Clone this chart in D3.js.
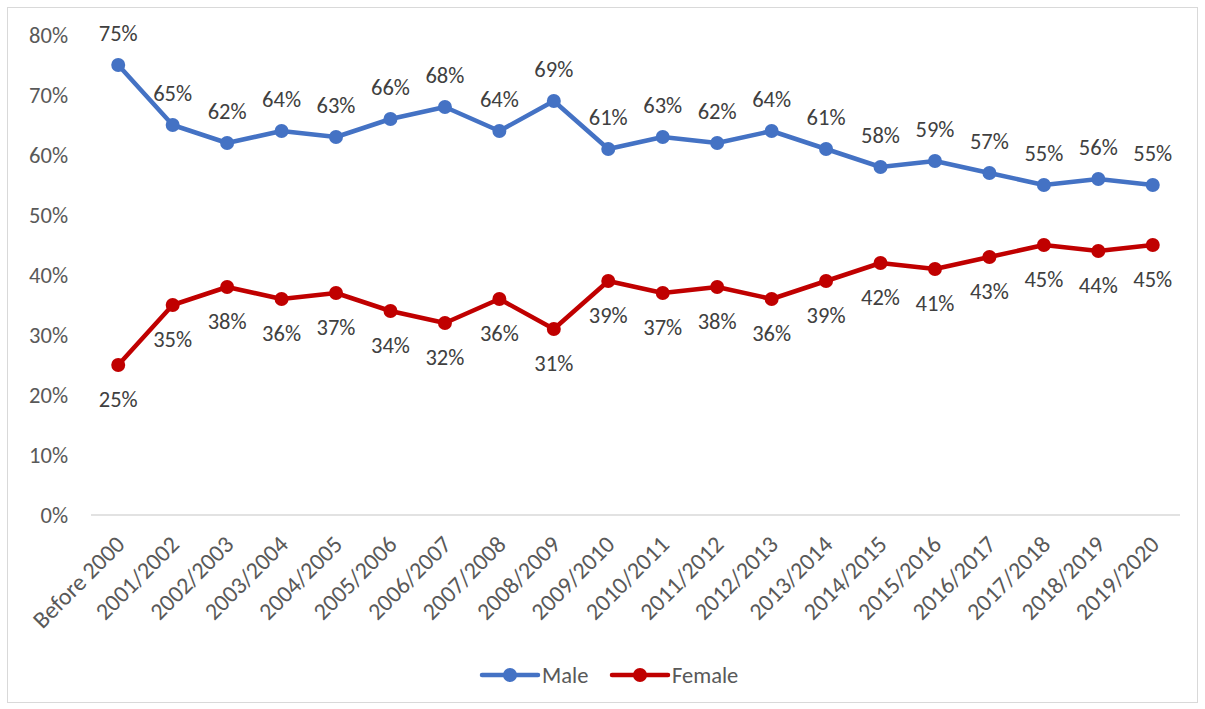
<!DOCTYPE html>
<html><head><meta charset="utf-8">
<script src="https://cdn.jsdelivr.net/npm/d3@7"></script>
<style>body{margin:0;background:#fff;}svg{display:block;font-family:Carlito,Lato,"Open Sans",sans-serif;}</style>
</head><body>
<svg id="c" width="1205" height="709"></svg>
<script>
const categories = ["Before 2000","2001/2002","2002/2003","2003/2004","2004/2005","2005/2006","2006/2007","2007/2008","2008/2009","2009/2010","2010/2011","2011/2012","2012/2013","2013/2014","2014/2015","2015/2016","2016/2017","2017/2018","2018/2019","2019/2020"];
const male = [75,65,62,64,63,66,68,64,69,61,63,62,64,61,58,59,57,55,56,55];
const female = [25,35,38,36,37,34,32,36,31,39,37,38,36,39,42,41,43,45,44,45];
const yTicks = [0,10,20,30,40,50,60,70,80];
const seriesNames = ["Male","Female"];
const colors = ["#4472C4","#C00000"];

const svg = d3.select("#c");
svg.append("rect").attr("x",7.5).attr("y",7.5).attr("width",1190).attr("height",695)
  .attr("fill","#fff").attr("stroke","#d9d9d9").attr("stroke-width",1);

const x = d3.scaleBand().domain(categories).range([91,1180]);
const y = d3.scaleLinear().domain([0,80]).range([515,35]);
const cx = d => x(d) + x.bandwidth()/2;

svg.append("line").attr("x1",91).attr("x2",1180).attr("y1",y(0)).attr("y2",y(0))
  .attr("stroke","#d9d9d9").attr("stroke-width",1.3);

svg.selectAll(".yt").data(yTicks).enter().append("text")
  .attr("x",68).attr("y",d=>y(d)).attr("dy","0.35em").attr("text-anchor","end")
  .attr("font-size",22.5).attr("fill","#595959").text(d=>d+"%");

svg.selectAll(".xt").data(categories).enter().append("text")
  .attr("transform",d=>`translate(${cx(d)+2},${y(0)+25}) rotate(-45)`)
  .attr("text-anchor","end").attr("dy","0.35em")
  .attr("font-size",24).attr("fill","#595959").text(d=>d);

const series = [male, female];
series.forEach((vals,i)=>{
  const line = d3.line().x((v,j)=>cx(categories[j])).y(v=>y(v));
  svg.append("path").datum(vals).attr("d",line).attr("fill","none")
    .attr("stroke",colors[i]).attr("stroke-width",4.5).attr("stroke-linejoin","round").attr("stroke-linecap","round");
  svg.selectAll(".m"+i).data(vals).enter().append("circle")
    .attr("cx",(v,j)=>cx(categories[j])).attr("cy",v=>y(v)).attr("r",7).attr("fill",colors[i]);
  svg.selectAll(".l"+i).data(vals).enter().append("text")
    .attr("x",(v,j)=>cx(categories[j])).attr("y",v=>y(v)+(i===0?-32:34)).attr("dy","0.35em")
    .attr("text-anchor","middle").attr("font-size",22.5).attr("fill","#404040").text(v=>v+"%");
});

const lg = [{x:482},{x:612}];
seriesNames.forEach((n,i)=>{
  const g = svg.append("g").attr("transform",`translate(${lg[i].x},675)`);
  g.append("line").attr("x1",0).attr("x2",56).attr("y1",0).attr("y2",0)
    .attr("stroke",colors[i]).attr("stroke-width",4.5).attr("stroke-linecap","round");
  g.append("circle").attr("cx",28).attr("cy",0).attr("r",7).attr("fill",colors[i]);
  g.append("text").attr("x",60).attr("y",0).attr("dy","0.35em").attr("font-size",22.5)
    .attr("fill","#595959").text(n);
});
</script>
</body></html>
